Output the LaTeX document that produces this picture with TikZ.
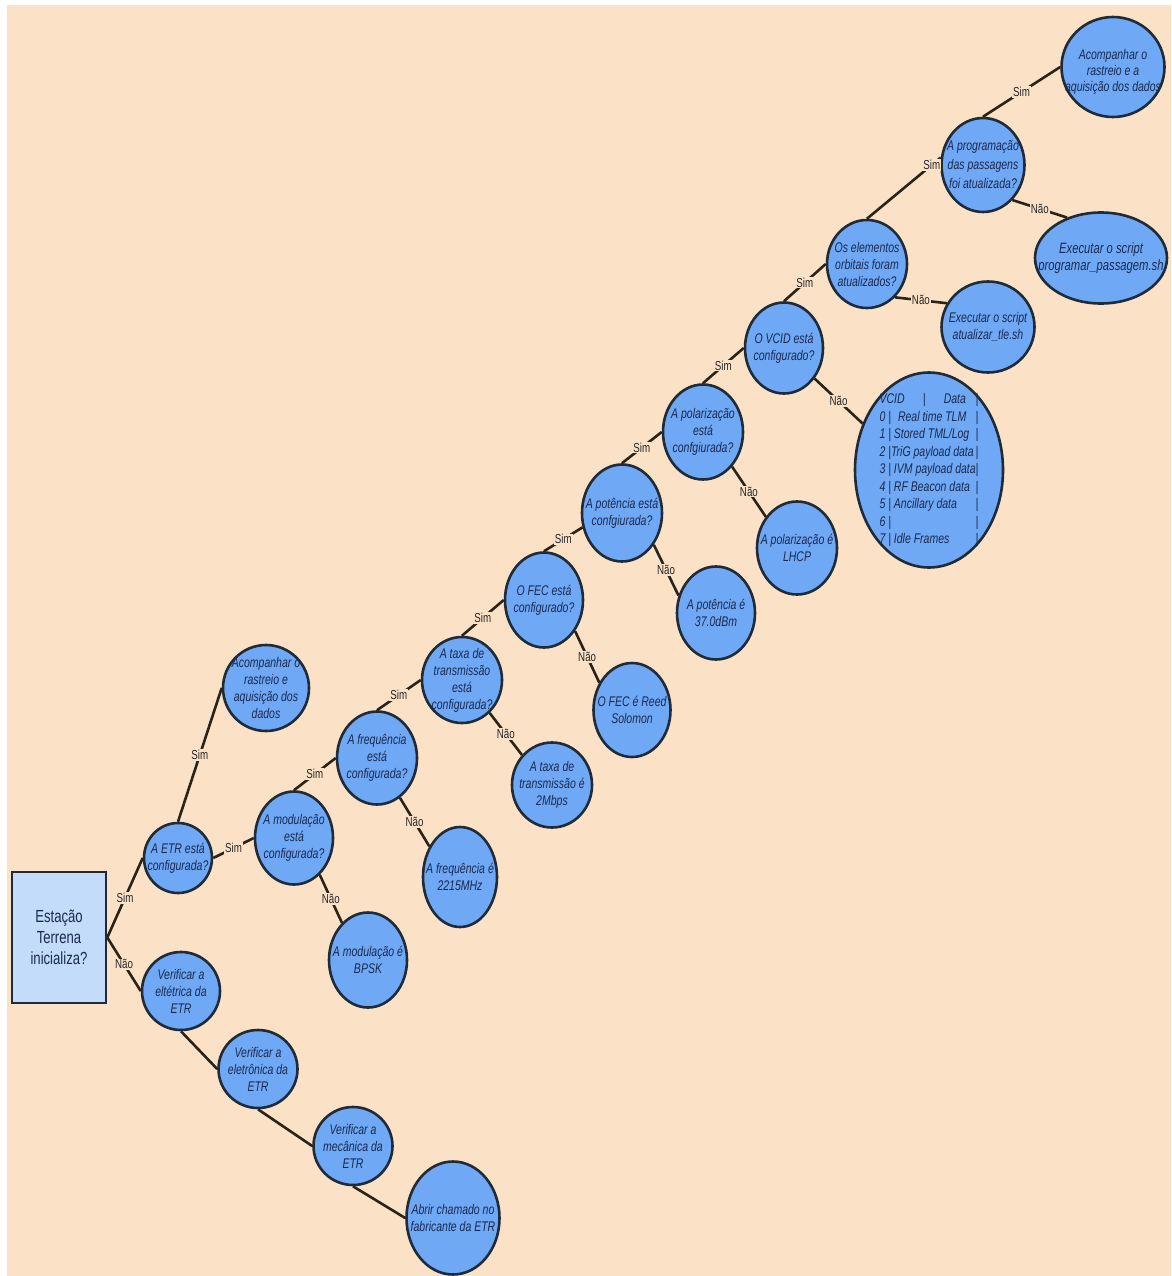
\documentclass[tikz,border=0pt]{standalone}
\usepackage{fontspec}
\setmainfont{Liberation Sans}[FakeStretch=0.75]
\usetikzlibrary{shapes.geometric}
\definecolor{bg}{HTML}{FBE1C6}
\definecolor{cfill}{HTML}{6FA8F4}
\definecolor{bfill}{HTML}{C2DCFA}
\definecolor{bord}{HTML}{1F2B38}
\definecolor{ctext}{HTML}{1A2A50}
\definecolor{ecol}{HTML}{2A2418}
\begin{document}
\begin{tikzpicture}[x=1pt,y=-1pt,
  dec/.style={ellipse, draw=bord, line width=2.6pt, fill=cfill, inner sep=-60pt,
    text=ctext, align=center, font=\fontsize{14}{17}\selectfont\itshape},
  startbox/.style={rectangle, draw=bord, line width=2.6pt, fill=bfill, inner sep=0pt,
    text=ctext, align=center, font=\fontsize{17.5}{21}\selectfont},
  edge/.style={draw=ecol, line width=2.6pt},
  lbl/.style={fill=bg, inner sep=1pt, text=black!85, font=\fontsize{13}{15}\selectfont}]

\useasboundingbox (0,0) rectangle (1171,1276);
\fill[white] (0,0) rectangle (1171,1276);
\fill[bg] (7,5) rectangle (1171,1276);

% nodes
\node[startbox, minimum width=94pt, minimum height=131pt] (root) at (59,937.5) {Estação\\Terrena\\inicializa?};
\node[dec, minimum width=68pt, minimum height=70pt] (etr) at (178,858) {A ETR está\\configurada?};
\node[dec, minimum width=86pt, minimum height=86pt] (acompA) at (266,688) {Acompanhar o\\rastreio e\\aquisição dos\\dados};
\node[dec, minimum width=78pt, minimum height=93pt] (modul) at (294,838) {A modulação\\está\\configurada?};
\node[dec, minimum width=80pt, minimum height=93pt] (freq) at (377,758) {A frequência\\está\\configurada?};
\node[dec, minimum width=78pt, minimum height=95pt] (bpsk) at (368,960) {A modulação é\\BPSK};
\node[dec, minimum width=74pt, minimum height=100pt] (mhz) at (460,877) {A frequência é\\2215MHz};
\node[dec, minimum width=80pt, minimum height=86pt] (taxa) at (462,680) {A taxa de\\transmissão\\está\\configurada?};
\node[dec, minimum width=78pt, minimum height=95pt] (fec) at (544,600) {O FEC está\\configurado?};
\node[dec, minimum width=80pt, minimum height=85pt] (mbps) at (552,785) {A taxa de\\transmissão é\\2Mbps};
\node[dec, minimum width=77pt, minimum height=94pt] (reed) at (632,710) {O FEC é Reed\\Solomon};
\node[dec, minimum width=80pt, minimum height=97pt] (pot) at (622,513) {A potência está\\confgiurada?};
\node[dec, minimum width=78pt, minimum height=93pt] (dbm) at (716,613) {A potência é\\37.0dBm};
\node[dec, minimum width=80pt, minimum height=95pt] (pol) at (703,432) {A polarização\\está\\confgiurada?};
\node[dec, minimum width=80pt, minimum height=93pt] (lhcp) at (797,548) {A polarização é\\LHCP};
\node[dec, minimum width=78pt, minimum height=91pt] (vcid) at (784,348) {O VCID está\\configurado?};
\node[dec, minimum width=148pt, minimum height=195pt] (tab) at (929,470) {%
  \fontsize{14}{17.5}\selectfont
  \begin{tabular}{@{}l@{}l@{}}
  VCID\hspace{1.3em}|\hspace{1.3em}Data & |\\
  0 |\hspace{0.5em}Real time TLM & |\\
  1 | Stored TML/Log & |\\
  2 |TriG payload data & |\\
  3 | IVM payload data & |\\
  4 | RF Beacon data & |\\
  5 | Ancillary data & |\\
  6 | & |\\
  7 | Idle Frames & |
  \end{tabular}};
\node[dec, minimum width=80pt, minimum height=88pt] (orb) at (867,264) {Os elementos\\orbitais foram\\atualizados?};
\node[dec, minimum width=93pt, minimum height=91pt] (tle) at (988,327) {Executar o script\\atualizar\_tle.sh};
\node[dec, minimum width=83pt, minimum height=94pt, font=\fontsize{14}{19}\selectfont\itshape] (prog) at (983,165) {A programação\\das passagens\\foi atualizada?};
\node[dec, minimum width=132pt, minimum height=91pt, font=\fontsize{15}{17}\selectfont\itshape] (pp) at (1101,258) {Executar o script\\programar\_passagem.sh};
\node[dec, minimum width=103pt, minimum height=100pt,
  label={[text=ctext, align=center, yshift=-5pt, font=\fontsize{14}{16}\selectfont\itshape]center:{Acompanhar o\\rastreio e a\\aquisição dos dados}}] (acompB) at (1113,67) {};
\node[dec, minimum width=78pt, minimum height=78pt] (elec) at (181,991) {Verificar a\\eltétrica da\\ETR};
\node[dec, minimum width=79pt, minimum height=78pt] (eletr) at (258,1069) {Verificar a\\eletrônica da\\ETR};
\node[dec, minimum width=79pt, minimum height=78pt] (mec) at (353,1146) {Verificar a\\mecânica da\\ETR};
\node[dec, minimum width=93pt, minimum height=113pt] (abrir) at (453,1218) {Abrir chamado no\\fabricante da ETR};

% edges
\draw[edge] (root.east) -- node[lbl]{Sim} (etr.west);
\draw[edge] (root.east) -- node[lbl]{Não} (elec.west);
\draw[edge] (etr.north) -- node[lbl]{Sim} (acompA.west);
\draw[edge] (etr.east) -- node[lbl]{Sim} (modul.west);
\draw[edge] (modul.north) -- node[lbl]{Sim} (freq.west);
\draw[edge] (modul.-55) -- node[lbl]{Não} (bpsk.125);
\draw[edge] (freq.north) -- node[lbl]{Sim} (taxa.west);
\draw[edge] (freq.-60) -- node[lbl]{Não} (mhz.135);
\draw[edge] (taxa.north) -- node[lbl]{Sim} (fec.west);
\draw[edge] (taxa.-50) -- node[lbl]{Não} (mbps.135);
\draw[edge] (fec.north) -- node[lbl]{Sim} (pot.200);
\draw[edge] (fec.-45) -- node[lbl]{Não} (reed.140);
\draw[edge] (pot.north) -- node[lbl]{Sim} (pol.west);
\draw[edge] (pot.-45) -- node[lbl]{Não} (dbm.155);
\draw[edge] (pol.north) -- node[lbl]{Sim} (vcid.west);
\draw[edge] (pol.-50) -- node[lbl]{Não} (lhcp.135);
\draw[edge] (vcid.north) -- node[lbl]{Sim} (orb.west);
\draw[edge] (vcid.-45) -- node[lbl]{Não} (tab.145);
\draw[edge] (orb.-50) -- node[lbl]{Não} (tle.150);
\draw[edge] (orb.north) -- node[lbl, pos=0.88]{Sim} (prog.170);
\draw[edge] (prog.north) -- node[lbl]{Sim} (acompB.west);
\draw[edge] (prog.-50) -- node[lbl]{Não} (pp.130);
\draw[edge] (elec.south) -- (eletr.west);
\draw[edge] (eletr.south) -- (mec.west);
\draw[edge] (mec.south) -- (abrir.west);
\end{tikzpicture}
\end{document}
